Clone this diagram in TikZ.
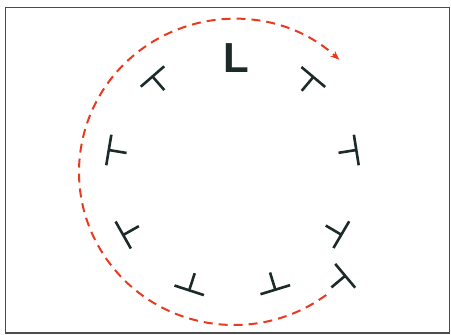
\documentclass[tikz,border=0pt]{standalone}
\usepackage{fontspec}
\setsansfont{Liberation Sans}
\usetikzlibrary{arrows.meta}
\definecolor{burgred}{RGB}{232,58,30}
\definecolor{dislink}{RGB}{28,42,42}
% one dislocation: bar through (x,y), stem at the given angle
\newcommand{\disl}[3]{%
  \draw[dis] (#1,#2) ++(#3+90:15.5) -- ++(#3-90:31);
  \draw[dis] (#1,#2) -- ++(#3:18);}

\begin{document}
\begin{tikzpicture}[x=1pt, y=-1pt,
    dis/.style={draw=dislink, line width=2.6pt},
    circuit/.style={draw=burgred, line width=2pt, dash pattern=on 9pt off 6pt,
                    -{Stealth[length=9pt, width=7pt]}}
]
    \useasboundingbox (0,0) rectangle (451,335);
    % Frame
    \draw[line width=1.6pt, black!70] (5.5,7.5) rectangle (449.5,333);

    % Label
    \node[font=\sffamily\bfseries\fontsize{42}{42}\selectfont, text=dislink,
          inner sep=0pt] (lbl) at (236.7,57.7) {L};

    % Dislocations round the loop
    \disl{152.5}{76.5}{49}
    \disl{313.3}{77}{130}
    \disl{108.8}{150}{9.5}
    \disl{356.3}{150}{171}
    \disl{123.2}{235}{-29.5}
    \disl{341.3}{234.7}{210.5}
    \disl{189.2}{290.3}{-72}
    \disl{275.3}{289.7}{-107}
    \disl{345.2}{275.8}{140}

    % Burgers circuit
    \coordinate (ctr) at (234,172);
    \draw[circuit] (ctr) ++(53.5:155 and 153)
        arc[start angle=53.5, end angle=312.8, x radius=155, y radius=153];
\end{tikzpicture}
\end{document}
